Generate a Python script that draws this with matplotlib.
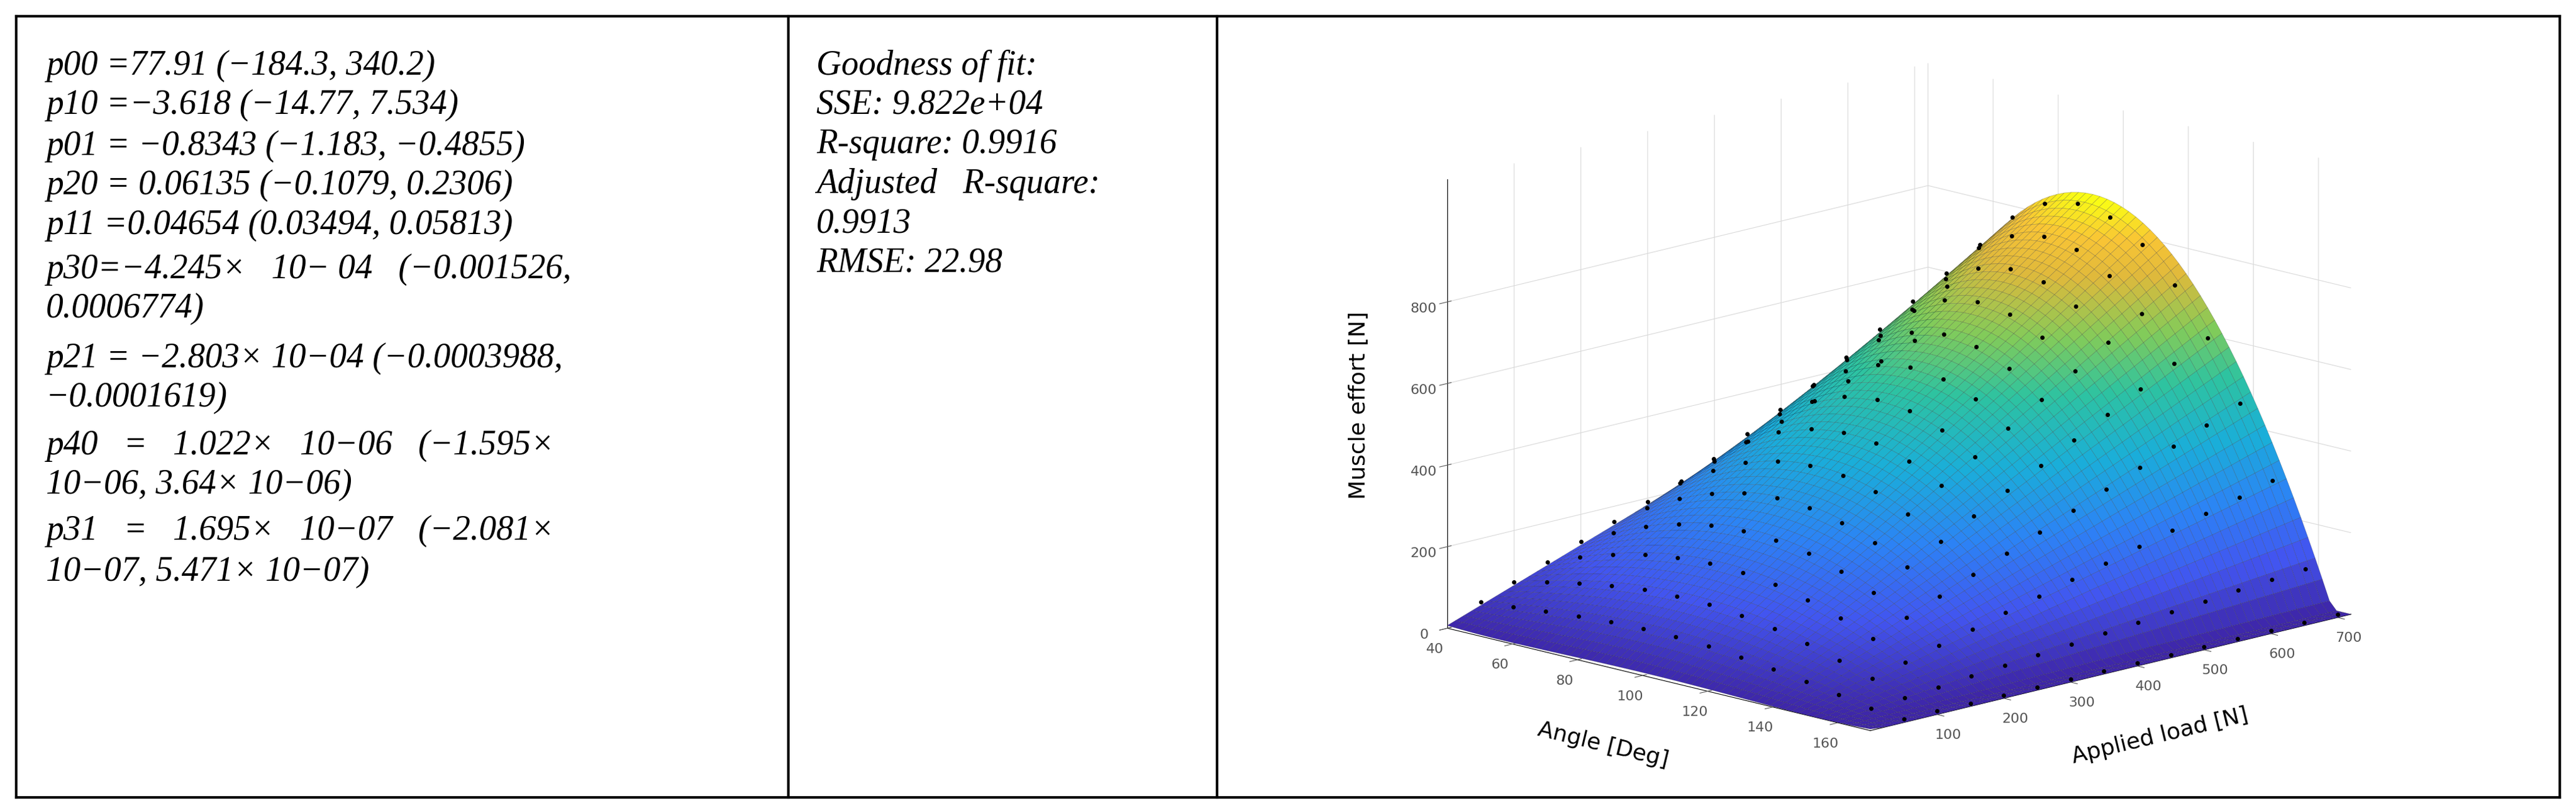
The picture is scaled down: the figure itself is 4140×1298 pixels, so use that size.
import numpy as np
import matplotlib
matplotlib.use("Agg")
import matplotlib.pyplot as plt
from matplotlib.colors import LinearSegmentedColormap

# ---- data ----
coef_names = ["p00", "p10", "p01", "p20", "p11", "p30", "p21", "p40", "p31"]
coef_values = [77.91, -3.618, -0.8343, 0.06135, 0.04654, -4.245e-4, -2.803e-4, 1.022e-6, 1.695e-7]
left_lines = [
    "p00 =77.91 (\u2212184.3, 340.2)",
    "p10 =\u22123.618 (\u221214.77, 7.534)",
    "p01 = \u22120.8343 (\u22121.183, \u22120.4855)",
    "p20 = 0.06135 (\u22120.1079, 0.2306)",
    "p11 =0.04654 (0.03494, 0.05813)",
    "p30=\u22124.245\u00d7   10\u2212 04   (\u22120.001526,",
    "0.0006774)",
    "p21 = \u22122.803\u00d7 10\u221204 (\u22120.0003988,",
    "\u22120.0001619)",
    "p40   =   1.022\u00d7   10\u221206   (\u22121.595\u00d7",
    "10\u221206, 3.64\u00d7 10\u221206)",
    "p31   =   1.695\u00d7   10\u221207   (\u22122.081\u00d7",
    "10\u221207, 5.471\u00d7 10\u221207)",
]
left_y = [40, 64, 89, 113, 137, 164, 188, 218, 242, 271, 295, 323, 348]
mid_lines = ["Goodness of fit:", "SSE: 9.822e+04", "R-square: 0.9916",
             "Adjusted   R-square:", "0.9913", "RMSE: 22.98"]
mid_y = [40, 64, 88, 112, 136, 160]
angles = np.arange(40, 171, 10)
loads = np.arange(50, 701, 50)
x_ticks = [40, 60, 80, 100, 120, 140, 160]
y_ticks = [100, 200, 300, 400, 500, 600, 700]
z_ticks = [0, 200, 400, 600, 800]

def model(x, y):
    p = coef_values
    return (p[0] + p[1]*x + p[2]*y + p[3]*x**2 + p[4]*x*y + p[5]*x**3
            + p[6]*x**2*y + p[7]*x**4 + p[8]*x**3*y)

W, H = 4140, 1298
fig = plt.figure(figsize=(W/100, H/100), dpi=100)
S = W/1568.0

def fx(px): return px*S/W
def fy(py): return 1 - py*S/H
lw = 3
for (x0, y0, x1, y1) in [(10, 10, 1558, 10), (10, 485, 1558, 485), (10, 10, 10, 485),
                         (1558, 10, 1558, 485), (480, 10, 480, 485), (741, 10, 741, 485)]:
    fig.add_artist(plt.Line2D([fx(x0), fx(x1)], [fy(y0), fy(y1)], color="black", lw=lw))

fam = ["Liberation Serif", "DejaVu Serif"]
for t, yy in zip(left_lines, left_y):
    fig.text(fx(28), fy(yy), t, fontsize=40, style="italic", family=fam, va="center", ha="left")
for t, yy in zip(mid_lines, mid_y):
    fig.text(fx(497), fy(yy), t, fontsize=40, style="italic", family=fam, va="center", ha="left")

parula = LinearSegmentedColormap.from_list("parula", [
    (0.0, "#3e26a8"), (0.15, "#4255f0"), (0.3, "#2c83f5"), (0.45, "#1aaed9"),
    (0.6, "#2ec3a0"), (0.72, "#81cb5a"), (0.85, "#e0b93b"), (0.93, "#f9c535"), (1.0, "#f9fb15")])

ax = fig.add_axes([fx(760), fy(470), fx(1540)-fx(760), fy(25)-fy(470)], projection="3d",
                  computed_zorder=False)
ax.set_proj_type("ortho")
xs = np.linspace(40, 170, 60)
ys = np.linspace(0, 720, 60)
X, Y = np.meshgrid(xs, ys)
Z = np.clip(model(X, Y), 0, None)
ax.plot_surface(X, Y, Z, cmap=parula, edgecolor=(0.1, 0.1, 0.1, 0.35), linewidth=0.4,
                rstride=1, cstride=1, antialiased=True, shade=False, zorder=1)
A, L = np.meshgrid(angles, loads)
ax.scatter(A.ravel(), L.ravel(), np.clip(model(A, L), 0, None).ravel() + 8, color="black",
           s=16, depthshade=False, zorder=5)

ax.set_xlim(40, 170)
ax.set_ylim(0, 720)
ax.set_zlim(0, 1100)
ax.set_xticks(x_ticks)
ax.set_yticks(y_ticks)
ax.set_zticks(z_ticks)
ax.tick_params(labelsize=16, colors="#555555")
ax.set_xlabel("Angle [Deg]", fontsize=26, labelpad=30)
ax.set_ylabel("Applied load [N]", fontsize=26, labelpad=30)
ax.set_zlabel("Muscle effort [N]", fontsize=26, labelpad=22)
for a in (ax.xaxis, ax.yaxis, ax.zaxis):
    a.set_pane_color((1, 1, 1, 1))
    a._axinfo["grid"]["color"] = (0.85, 0.85, 0.85, 1)
    a._axinfo["grid"]["linewidth"] = 0.8
ax.zaxis.set_ticks_position("lower")
ax.zaxis.set_label_position("lower")
ax.view_init(elev=14, azim=-45)
ax.set_box_aspect((1.1, 1.25, 0.85), zoom=1.35)
for art in ax.get_children():
    try:
        art.set_clip_on(False)
    except Exception:
        pass

fig.savefig("out.png", dpi=100)
